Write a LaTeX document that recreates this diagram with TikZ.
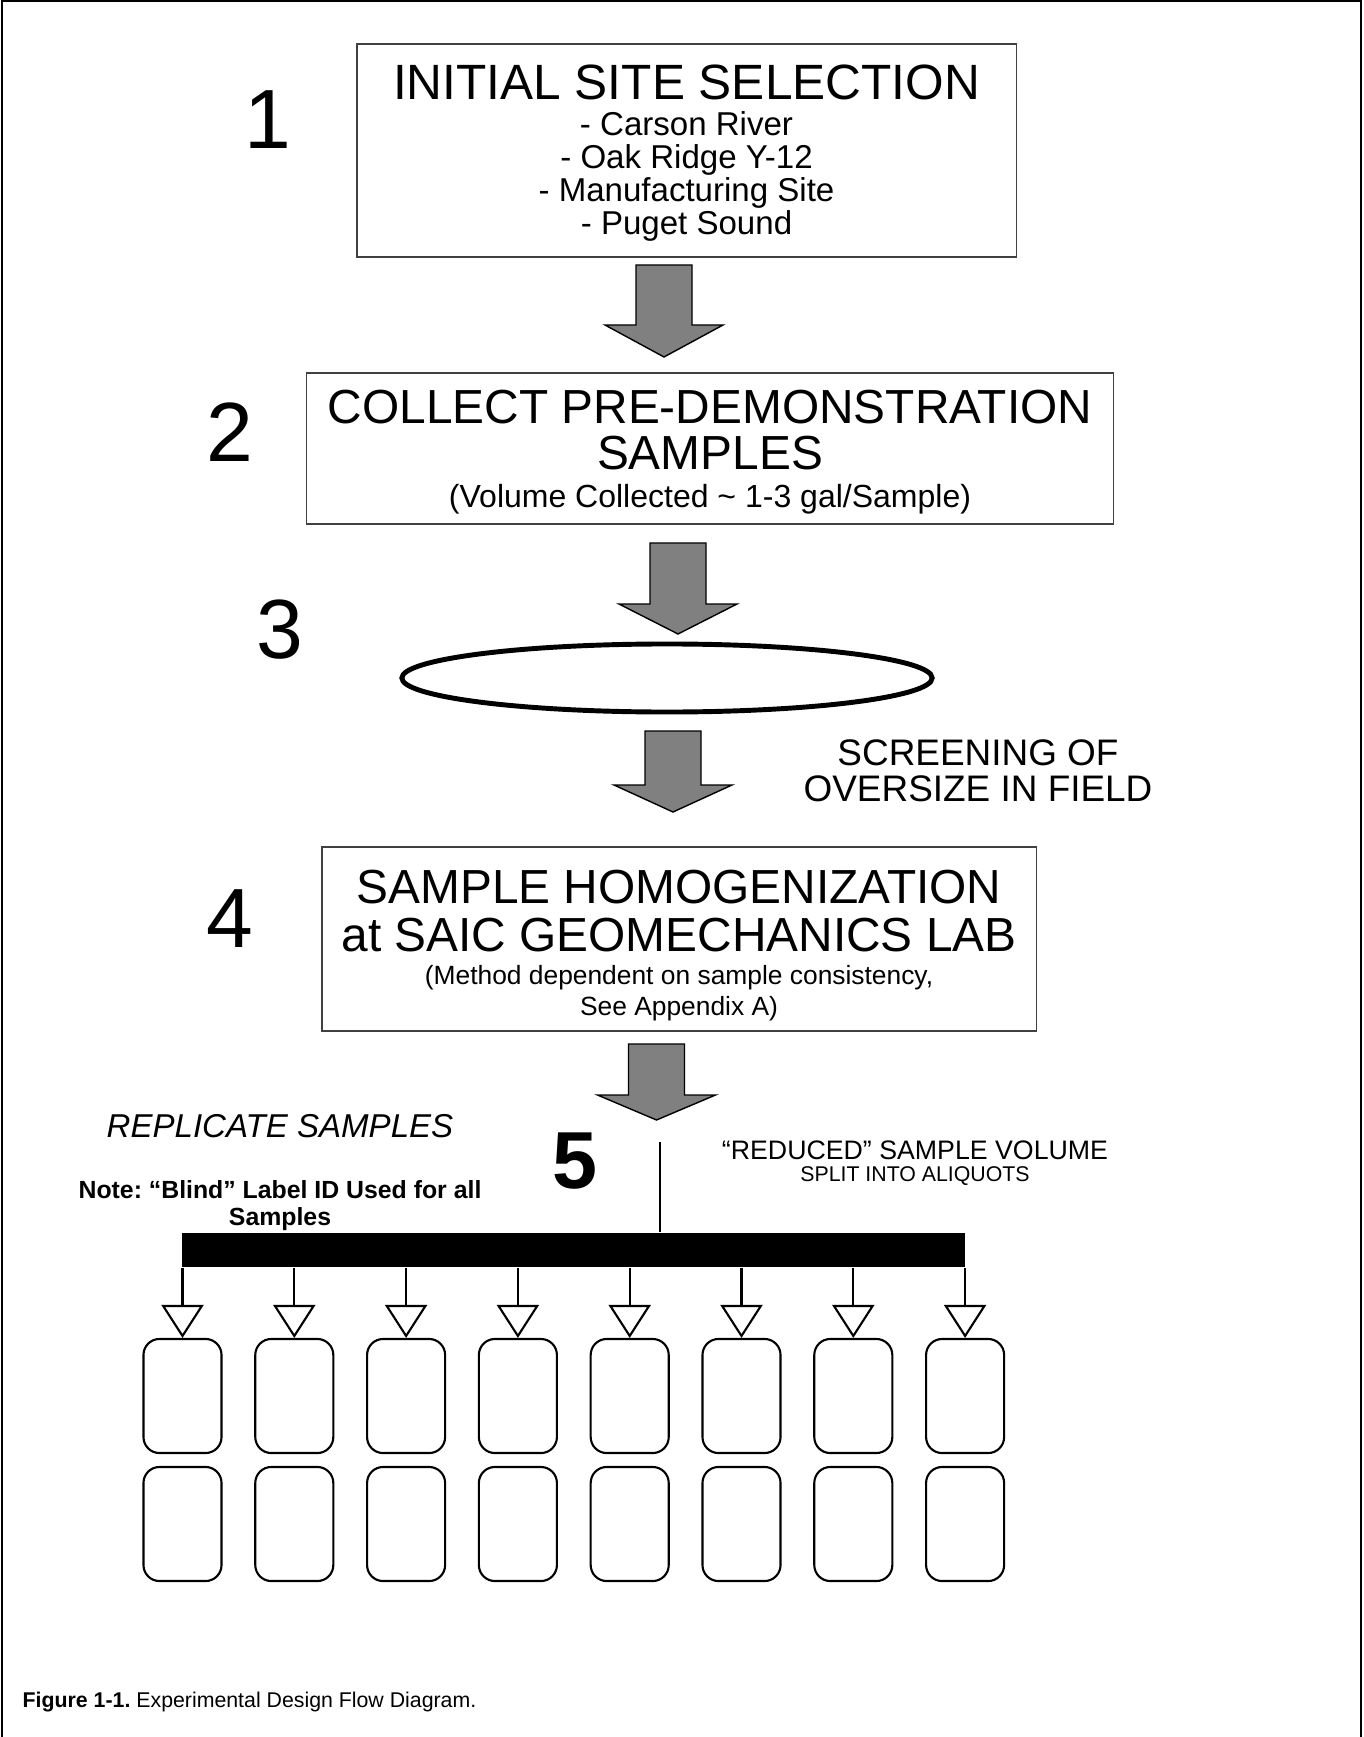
\documentclass[tikz,border=0pt]{standalone}
\usepackage{fontspec}
\setmainfont{Liberation Sans}
\usepackage{tikz}
\usetikzlibrary{arrows.meta}
\usetikzlibrary{shapes.geometric}
\usetikzlibrary{calc}
\frenchspacing

\begin{document}
\begin{tikzpicture}[x=0.01cm,y=-0.01cm]
      \newcommand{\fsz}[2]{\fontsize{#1}{#2}\selectfont\lineskiplimit=-100pt\frenchspacing\relax}
      \newcommand{\bigarrow}[4]{\path[blockarrow] (#1-28,#2) -- (#1+28,#2) -- (#1+28,#3) -- (#1+59,#3) -- (#1,#4) -- (#1-59,#3) -- (#1-28,#3) -- cycle;}
      \tikzstyle{box} = [draw=black!75, line width=0.4pt, inner sep=0pt, align=center]
      \tikzstyle{stepnum} = [inner sep=0pt, font=\fsz{23.9}{24}]
      \tikzstyle{blockarrow} = [fill=black!50, draw=black, line width=0.4pt]
      \tikzstyle{vial} = [draw=black, line width=0.6pt, rounded corners=1.6mm, minimum width=0.78cm, minimum height=1.14cm, inner sep=0pt]
      \tikzstyle{drop} = [-{Triangle[open,length=3.3mm,width=4.2mm]}, line width=0.6pt]
      \tikzstyle{stem} = [line width=0.65pt]
      \tikzstyle{label} = [inner sep=0pt, align=center]

      \useasboundingbox (0,0) rectangle (1363,1737);
      \draw[line width=0.6pt] (2,1737) -- (2,1) -- (1361,1) -- (1361,1737);

      \node[box, minimum width=6.59cm, minimum height=2.13cm, font=\fsz{9.4}{9.4}] (site) at (686.5,150.5)
        {{\fsz{14.1}{14}\rule{0pt}{11.4pt}INITIAL SITE SELECTION}\\[1pt]
         - Carson River\\ - Oak Ridge Y-12\\ - Manufacturing Site\\ - Puget Sound};
      \node[box, minimum width=8.06cm, minimum height=1.51cm, font=\fsz{13.6}{13.1}] (collect) at (710,448.5)
        {\rule{0pt}{11.5pt}COLLECT PRE-DEMONSTRATION\\ SAMPLES\\[-2.15pt]
         {\fsz{9.1}{9.1}(Volume Collected \textasciitilde{} 1-3 gal/Sample)}};
      \node[draw, ellipse, line width=1.4pt, minimum width=5.30cm, minimum height=0.68cm, inner sep=0pt] (screen) at (667,678) {};
      \node[box, minimum width=7.14cm, minimum height=1.84cm, font=\fsz{13.6}{13.6}] (homog) at (679,939)
        {\rule{0pt}{13pt}SAMPLE HOMOGENIZATION\\ at SAIC GEOMECHANICS LAB\\[-4pt]
         {\fsz{7.5}{7.5}(Method dependent on sample consistency,}\\[-5pt]
         {\fsz{7.5}{7.5}See Appendix A)}};

      \bigarrow{664}{265}{325}{357}
      \bigarrow{678}{543}{604}{634}
      \bigarrow{673}{731}{785}{812}
      \bigarrow{656.5}{1044}{1095}{1120}

      \node[stepnum] (n1) at (268,120) {1};
      \node[stepnum] (n2) at (230,432) {2};
      \node[stepnum] (n3) at (280,630) {3};
      \node[stepnum] (n4) at (230,919) {4};
      \node[stepnum, font=\fsz{23}{23}\bfseries] (n5) at (575,1161) {5};

      \node[label, font=\fsz{10.5}{10.24}] (oversize) at (978,771) {SCREENING OF\\OVERSIZE IN FIELD};
      \node[label, font=\fsz{9.4}{9.4}\itshape] (replicate) at (280,1126) {REPLICATE SAMPLES};
      \node[label, font=\fsz{7.06}{7.7}\bfseries] (note) at (280,1206) {Note: “Blind” Label ID Used for all\\Samples};
      \node[label, font=\fsz{7.6}{6.26}] (reduced) at (915,1163) {“REDUCED” SAMPLE VOLUME\\{\fsz{6.06}{6.06}SPLIT INTO ALIQUOTS}};

      \node[fill=black, minimum width=7.825cm, minimum height=0.34cm, inner sep=0pt] (bar) at (573.75,1250) {};
      \coordinate (split) at (660,1142);
      \draw[stem] (split) -- (split |- bar.north);

      \foreach \i in {0,...,7}{
        \node[vial] (top\i) at ({182.5+111.8*\i},1396) {};
        \node[vial] (bot\i) at ({182.5+111.8*\i},1524) {};
        \draw[drop] (bar.south -| top\i.north) -- (top\i.north);
      }

      \node[anchor=base west, inner sep=0pt, font=\fsz{6.06}{7}] (caption) at (22,1707)
        {\textbf{Figure 1-1.} Experimental Design Flow Diagram.};
\end{tikzpicture}
\end{document}
